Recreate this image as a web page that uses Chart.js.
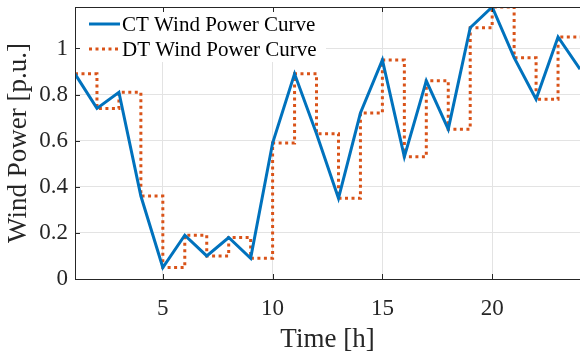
<!DOCTYPE html>
<html>
<head>
<meta charset="utf-8">
<script src="https://cdn.jsdelivr.net/npm/chart.js@4/dist/chart.umd.min.js"></script>
<style>
  html, body { margin: 0; padding: 0; background: #fff; }
  #wrap { width: 580px; height: 352px; position: relative; }
</style>
</head>
<body>
<div id="wrap"><canvas id="chart"></canvas></div>
<script>
// Hourly wind power, continuous-time vs discrete-time curve.
const HOURS = [1, 2, 3, 4, 5, 6, 7, 8, 9, 10, 11, 12, 13, 14, 15, 16, 17, 18, 19, 20, 21, 22, 23, 24];
const CT_POWER = [0.89, 0.74, 0.81, 0.36, 0.05, 0.19, 0.10, 0.18, 0.09, 0.59, 0.89, 0.63,
                  0.35, 0.72, 0.95, 0.53, 0.86, 0.65, 1.09, 1.18, 0.96, 0.78, 1.05, 0.91];
const DT_POWER = [0.89, 0.74, 0.81, 0.36, 0.05, 0.19, 0.10, 0.18, 0.09, 0.59, 0.89, 0.63,
                  0.35, 0.72, 0.95, 0.53, 0.86, 0.65, 1.09, 1.18, 0.96, 0.78, 1.05, 1.05];
const X_TICKS = [5, 10, 15, 20];
const Y_TICKS = [0, 0.2, 0.4, 0.6, 0.8, 1];
const SERIES_LABELS = ['CT Wind Power Curve', 'DT Wind Power Curve'];

const BLUE = '#0072bd';
const ORANGE = '#d95319';
const AXIS = '#262626';
const FONT = '"Liberation Serif", "Times New Roman", serif';

const toPoints = vals => HOURS.map((h, i) => ({ x: h, y: vals[i] }));

// Legend drawn inside the axes (top-left, white box, no border), MATLAB style.
const insideLegend = {
  id: 'insideLegend',
  afterDatasetsDraw(chart) {
    const { ctx, chartArea: a } = chart;
    ctx.save();
    ctx.fillStyle = '#fff';
    ctx.fillRect(a.left + 1, a.top + 1, 250, 54);
    ctx.font = `21px ${FONT}`;
    ctx.textBaseline = 'middle';
    const rows = [
      { y: a.top + 17, color: BLUE, dash: [] },
      { y: a.top + 42, color: ORANGE, dash: [3, 3.5] },
    ];
    rows.forEach((r, i) => {
      ctx.strokeStyle = r.color;
      ctx.lineWidth = 3;
      ctx.setLineDash(r.dash);
      ctx.beginPath();
      ctx.moveTo(a.left + 14, r.y);
      ctx.lineTo(a.left + 45, r.y);
      ctx.stroke();
      ctx.setLineDash([]);
      ctx.fillStyle = '#000';
      ctx.fillText(SERIES_LABELS[i], a.left + 47, r.y + 1);
    });
    ctx.restore();
  },
  afterDraw(chart) {
    // axes box + inward tick marks
    const { ctx, chartArea: a, scales } = chart;
    ctx.save();
    ctx.strokeStyle = AXIS;
    ctx.lineWidth = 1;
    ctx.strokeRect(a.left + 0.5, a.top + 0.5, a.right - a.left, a.bottom - a.top);
    ctx.beginPath();
    X_TICKS.forEach(v => {
      const x = Math.round(scales.x.getPixelForValue(v)) + 0.5;
      ctx.moveTo(x, a.bottom); ctx.lineTo(x, a.bottom - 5);
      ctx.moveTo(x, a.top); ctx.lineTo(x, a.top + 5);
    });
    Y_TICKS.forEach(v => {
      const y = Math.round(scales.y.getPixelForValue(v)) + 0.5;
      ctx.moveTo(a.left, y); ctx.lineTo(a.left + 5, y);
    });
    ctx.stroke();
    ctx.restore();
  },
};

new Chart(document.getElementById('chart'), {
  type: 'line',
  data: {
    datasets: [
      {
        label: SERIES_LABELS[0],
        data: toPoints(CT_POWER),
        borderColor: BLUE,
        borderWidth: 3,
        pointRadius: 0,
        tension: 0,
      },
      {
        label: SERIES_LABELS[1],
        data: toPoints(DT_POWER),
        borderColor: ORANGE,
        borderWidth: 3,
        borderDash: [3, 3.5],
        pointRadius: 0,
        stepped: 'before',
      },
    ],
  },
  options: {
    responsive: true,
    maintainAspectRatio: false,
    animation: false,
    layout: { padding: { top: 7, right: 0, left: 0, bottom: 0 } },
    plugins: { legend: { display: false }, tooltip: { enabled: false } },
    scales: {
      x: {
        type: 'linear',
        min: 1,
        max: 24,
        afterBuildTicks: s => { s.ticks = X_TICKS.map(v => ({ value: v })); },
        afterFit: s => { s.height = 73; s.paddingLeft = 0; s.paddingRight = 0; },
        grid: { color: '#e3e3e3', drawTicks: false },
        border: { display: false },
        ticks: { color: AXIS, font: { family: FONT, size: 23 }, padding: 16, maxRotation: 0 },
        title: {
          display: true, text: 'Time [h]', color: AXIS,
          font: { family: FONT, size: 27, lineHeight: 1 }, padding: { top: 0, bottom: -1 },
        },
      },
      y: {
        min: 0,
        max: 1.18,
        afterBuildTicks: s => { s.ticks = Y_TICKS.map(v => ({ value: v })); },
        afterFit: s => { s.width = 75; s.paddingTop = 0; s.paddingBottom = 0; },
        grid: { color: '#e3e3e3', drawTicks: false },
        border: { display: false },
        ticks: {
          color: AXIS, font: { family: FONT, size: 23 }, padding: 7,
          callback: v => String(+v.toFixed(1)),
        },
        title: {
          display: true, text: 'Wind Power [p.u.]', color: AXIS,
          font: { family: FONT, size: 27, lineHeight: 1 }, padding: { top: 5, bottom: 0 },
        },
      },
    },
  },
  plugins: [insideLegend],
});
</script>
</body>
</html>
